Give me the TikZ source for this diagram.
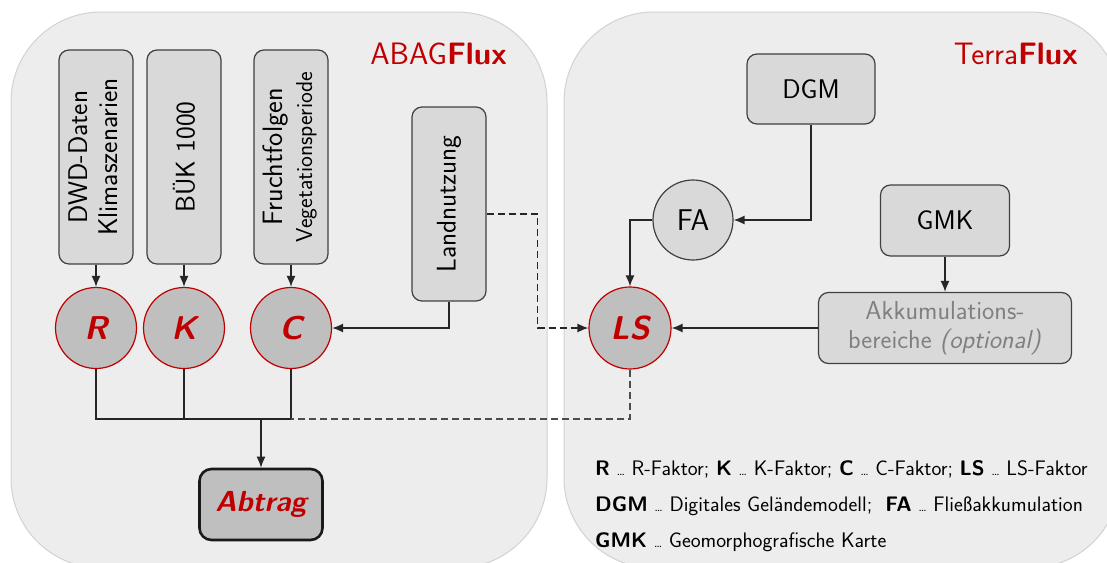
\documentclass[tikz,border=0pt]{standalone}
\usepackage{graphicx}
\usepackage{tikz}
\usetikzlibrary{arrows,arrows.meta,shapes,calc,positioning}
\renewcommand{\familydefault}{\sfdefault}
\definecolor{panelgray}{HTML}{EDEDED}
\definecolor{panelline}{HTML}{D2D2D2}
\definecolor{boxgray}{HTML}{D9D9D9}
\definecolor{factorgray}{HTML}{BFBFBF}
\definecolor{fluxred}{HTML}{C00000}
\definecolor{linegray}{HTML}{404040}
\newcommand{\boxfont}{\fontsize{27}{30}\selectfont}
\newcommand{\factorfont}{\fontsize{33}{35}\selectfont\bfseries\itshape}
\newcommand{\legendfont}{\fontsize{21}{23}\selectfont}
\newcommand{\titlefont}{\fontsize{31}{33}\selectfont}
\newcommand{\legdots}{{\fontsize{14}{14}\selectfont\dots}}

\begin{document}
\begin{tikzpicture}[x=1pt, y=-1pt]
\tikzstyle{panel}=[rounded corners=90pt, fill=panelgray, draw=panelline, line width=1pt]
\tikzstyle{src}=[rectangle, rounded corners=10pt, draw=linegray, fill=boxgray, line width=1.2pt, inner sep=0pt, font=\boxfont]
\tikzstyle{srcv}=[src, minimum width=74pt, minimum height=214pt]
\tikzstyle{factor}=[circle, draw=fluxred, fill=factorgray, line width=1.2pt, minimum size=81pt, inner sep=0pt, font=\factorfont, text=fluxred]
\tikzstyle{title}=[anchor=east, inner sep=0pt, font=\titlefont, text=fluxred]
\tikzstyle{link}=[line width=1.4pt, draw=black!85]
\tikzstyle{connect}=[link, -{Latex[length=11pt, width=9pt]}]
\tikzstyle{dashconnect}=[connect, dash pattern=on 7pt off 4pt]
\tikzstyle{legend}=[anchor=west, inner sep=0pt, font=\legendfont]

  \useasboundingbox (0,0) rectangle (1107,562);
  \fill[white] (0,0) rectangle (1107,562);

  % the two tools
  \path[panel] (11,12) rectangle (547,568);
  \path[panel] (564,12) rectangle (1120,568);
  \node[title] (abag)  at (507,54)  {ABAG\textbf{Flux}};
  \node[title] (terra) at (1078,54) {Terra\textbf{Flux}};

  % ABAGFlux inputs
  \node[srcv] (dwd)    at (96,157)  {\rotatebox{90}{\begin{tabular}{@{}c@{}}DWD-Daten\\Klimaszenarien\end{tabular}}};
  \node[srcv] (buek)   at (184,157) {\rotatebox{90}{BÜK 1000}};
  \node[srcv] (frucht) at (291,157) {\rotatebox{90}{\begin{tabular}{@{}c@{}}{\fontsize{28}{30}\selectfont Fruchtfolgen}\\{\fontsize{23}{25}\selectfont Vegetationsperiode}\end{tabular}}};
  \node[src, minimum width=74pt, minimum height=194pt] (land) at (449,204) {\rotatebox{90}{Landnutzung}};

  \node[factor] (R) [below of=dwd,    node distance=171pt] {R};
  \node[factor] (K) [below of=buek,   node distance=171pt] {K};
  \node[factor] (C) [below of=frucht, node distance=171pt] {C};

  \node[src, rounded corners=12pt, fill=factorgray, draw=black!90, line width=2.6pt, minimum width=123pt, minimum height=71pt,
        font=\fontsize{29}{31}\selectfont\bfseries\itshape, text=fluxred] (abtrag) at (261,504.5) {Abtrag};

  % TerraFlux
  \node[src, minimum width=128pt, minimum height=70pt] (dgm) at (811,89) {DGM};
  \node[circle, draw=linegray, fill=boxgray, line width=1.2pt, minimum size=80pt, inner sep=0pt,
        font=\fontsize{30}{32}\selectfont] (FA) at (693,220) {FA};
  \node[src, minimum width=129pt, minimum height=71pt] (gmk) at (945,220.5) {GMK};
  \node[src, minimum width=253pt, minimum height=71pt, align=center, text=black!50,
        font=\fontsize{26}{29}\selectfont] (akk) [below of=gmk, node distance=107.5pt] {Akkumulations-\\bereiche \textit{(optional)}};
  \node[factor, minimum size=82pt] (LS) at (630,328) {LS};

  \coordinate (bus) at (261,419);

  \draw[connect] (dwd) -- (R);
  \draw[connect] (buek) -- (K);
  \draw[connect] (frucht) -- (C);
  \draw[connect] (land.south) |- (C.east);
  \draw[dashconnect] ([yshift=-10pt]land.east) -- ++(51,0) |- (LS.west);

  \draw[link] (R.south) |- (C.south |- bus) -- (C.south);
  \draw[link] (K.south) -- (K.south |- bus);
  \draw[link, draw=black!70, dash pattern=on 7pt off 4pt] (LS.south) |- (C.south |- bus);
  \draw[connect] (bus) -- (abtrag.north);

  \draw[connect] (dgm.south) |- (FA.east);
  \draw[connect] (FA.west) -| (LS.north);
  \draw[connect] (gmk) -- (akk);
  \draw[connect] (akk.west) -- (LS.east);

  % legend
  \node[legend] (leg1) at (595,469) {\textbf{R} \legdots{} R-Faktor; \textbf{K} \legdots{} K-Faktor; \textbf{C} \legdots{} C-Faktor; \textbf{LS} \legdots{} LS-Faktor};
  \node[legend] (leg2) at (595,506) {\textbf{DGM} \legdots{} Digitales Geländemodell;\ \ \textbf{FA} \legdots{} Fließakkumulation};
  \node[legend] (leg3) at (595,542) {\textbf{GMK} \legdots{} Geomorphografische Karte};

\end{tikzpicture}
\end{document}
